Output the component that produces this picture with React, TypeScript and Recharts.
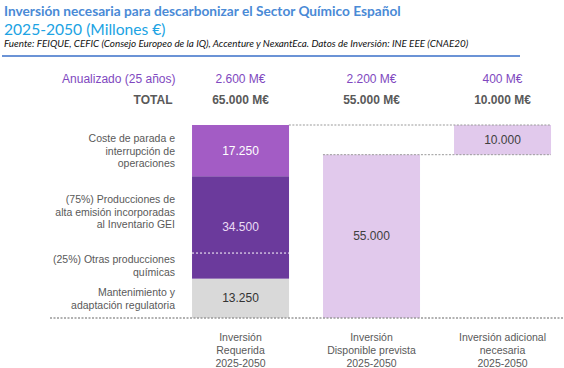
import React from 'react';
import { BarChart, Bar, XAxis, YAxis } from 'recharts';

// categories (x axis, one line per row of the tick)
const categoryLines = [
  ['Inversión', 'Requerida', '2025-2050'],
  ['Inversión', 'Disponible prevista', '2025-2050'],
  ['Inversión adicional', 'necesaria', '2025-2050'],
];
const annualized = ['2.600 M€', '2.200 M€', '400 M€'];
const totals = ['65.000 M€', '55.000 M€', '10.000 M€'];

// series (millones €)
const mantenimiento = [13250, 0, 0];
const altaEmision = [34500, 0, 0];
const costeParada = [17250, 0, 0];
const disponible = [0, 55000, 0];
const base = [0, 0, 55000];
const adicional = [0, 0, 10000];
const altaShare = 0.75; // 75% alta emisión / 25% otras

const mantLabel = ['Mantenimiento y', 'adaptación regulatoria'];
const altaLabel = ['(75%) Producciones de', 'alta emisión incorporadas', 'al Inventario GEI'];
const otrasLabel = ['(25%) Otras producciones', 'químicas'];
const costeLabel = ['Coste de parada e', 'interrupción de', 'operaciones'];

const data = categoryLines.map((lines, i) => ({
  name: lines.join(' '),
  base: base[i],
  mant: mantenimiento[i],
  alta: altaEmision[i],
  coste: costeParada[i],
  disponible: disponible[i],
  adicional: adicional[i],
}));

const GAP = 0.13;
const FONT = '"Liberation Sans", Arial, sans-serif';
const fmt = (v: number) => String(v).replace(/\B(?=(\d{3})+(?!\d))/g, '.');

const Lines = ({ lines, x, cy, anchor, fill, size = 10.5, lh = 12.8 }: any) => (
  <>
    {lines.map((l: string, i: number) => (
      <text
        key={i}
        x={x}
        y={cy + (i - (lines.length - 1) / 2) * lh}
        textAnchor={anchor}
        dominantBaseline="central"
        fontFamily={FONT}
        fontSize={size}
        fill={fill}
      >
        {l}
      </text>
    ))}
  </>
);

const gapPx = (w: number) => (w * GAP) / (1 - 2 * GAP);

const segment = (key: string, fill: string, textFill: string, labels?: string[]) => (p: any) => {
  if (!p.height || p.height <= 0) return null;
  return (
    <g>
      <rect x={p.x} y={p.y} width={p.width} height={p.height} fill={fill} />
      <Lines lines={[fmt(p.payload[key])]} x={p.x + p.width / 2} cy={p.y + p.height / 2} anchor="middle" fill={textFill} size={12} />
      {labels && (
        <Lines lines={labels} x={p.x - gapPx(p.width)} cy={p.y + p.height / 2} anchor="end" fill="#595959" />
      )}
    </g>
  );
};

const AltaShape = (p: any) => {
  if (!p.height || p.height <= 0) return null;
  const lx = p.x - gapPx(p.width);
  const split = p.y + p.height * altaShare;
  return (
    <g>
      <rect x={p.x} y={p.y} width={p.width} height={p.height} fill="#6b3a9c" />
      <line x1={p.x} x2={p.x + p.width} y1={split} y2={split} stroke="#fff" strokeDasharray="2 2" strokeWidth={1} />
      <Lines lines={[fmt(p.payload.alta)]} x={p.x + p.width / 2} cy={p.y + p.height / 2} anchor="middle" fill="#eadcf5" size={12} />
      <Lines lines={altaLabel} x={lx} cy={(p.y + split) / 2 - 3} anchor="end" fill="#595959" />
      <Lines lines={otrasLabel} x={lx} cy={(split + p.y + p.height) / 2} anchor="end" fill="#595959" />
    </g>
  );
};

const AdicionalShape = (p: any) => {
  if (!p.height || p.height <= 0) return null;
  const step = p.width / (1 - 2 * GAP);
  const right = p.x + p.width;
  return (
    <g>
      <rect x={p.x} y={p.y} width={p.width} height={p.height} fill="#e1c9ec" />
      <line x1={right - 2 * step} x2={right} y1={p.y} y2={p.y} stroke="#999" strokeDasharray="2 1.5" />
      <line x1={p.x - step} x2={right} y1={p.y + p.height} y2={p.y + p.height} stroke="#999" strokeDasharray="2 1.5" />
      <Lines lines={[fmt(p.payload.adicional)]} x={p.x + p.width / 2} cy={p.y + p.height / 2} anchor="middle" fill="#404040" size={12} />
    </g>
  );
};

const BottomTick = ({ x, y, payload }: any) => (
  <Lines lines={categoryLines[payload.index]} x={x} cy={y + 30} anchor="middle" fill="#595959" lh={13} />
);

const TopTick = ({ x, y, payload }: any) => {
  const i = payload.index;
  return (
    <g>
      <text x={x} y={y - 44} textAnchor="middle" dominantBaseline="central" fontFamily={FONT} fontSize={12} fill="#8048c0">
        {annualized[i]}
      </text>
      <text x={x} y={y - 23} textAnchor="middle" dominantBaseline="central" fontFamily={FONT} fontSize={12} fontWeight="bold" fill="#595959">
        {totals[i]}
      </text>
      {i === 0 && (
        <>
          <text x={x - 65} y={y - 44} textAnchor="end" dominantBaseline="central" fontFamily={FONT} fontSize={12} fill="#8048c0">
            Anualizado (25 años)
          </text>
          <text x={x - 68} y={y - 23} textAnchor="end" dominantBaseline="central" fontFamily={FONT} fontSize={12} fontWeight="bold" fill="#595959">
            TOTAL
          </text>
        </>
      )}
    </g>
  );
};

export default function App() {
  return (
    <div style={{ position: 'relative', width: 564, height: 368, overflow: 'hidden', background: '#fff' }}>
      <style>{'body{margin:0}'}</style>
      <div style={{ position: 'absolute', left: 4, top: 4, fontFamily: 'Lato, sans-serif', lineHeight: 1 }}>
        <div style={{ fontSize: 13.7, fontWeight: 'bold', color: '#4a8ad6', whiteSpace: 'nowrap' }}>
          Inversión necesaria para descarbonizar el Sector Químico Español
        </div>
        <div style={{ fontSize: 15.6, color: '#20a3e3', marginTop: 4, whiteSpace: 'nowrap' }}>2025-2050 (Millones €)</div>
        <div style={{ fontSize: 9.85, fontStyle: 'italic', color: '#111', marginTop: 2, whiteSpace: 'nowrap' }}>
          Fuente: FEIQUE, CEFIC (Consejo Europeo de la IQ), Accenture y NexantEca. Datos de Inversión: INE EEE (CNAE20)
        </div>
      </div>
      <div style={{ position: 'absolute', left: 2, top: 55, width: 518, height: 1.5, background: '#6b93d6' }} />
      <div style={{ position: 'absolute', left: 0, top: 0 }}>
        <BarChart width={572} height={368} data={data} margin={{ top: 65, right: 0, left: 50, bottom: 5 }} barCategoryGap="13%">
          <YAxis hide width={0} type="number" domain={[0, 65000]} />
          <XAxis
            xAxisId="top"
            orientation="top"
            dataKey="name"
            height={60}
            padding={{ left: 125, right: 4 }}
            axisLine={false}
            tickLine={false}
            tickSize={0}
            tick={<TopTick />}
            interval={0}
          />
          <XAxis
            dataKey="name"
            height={45}
            padding={{ left: 125, right: 4 }}
            axisLine={{ stroke: '#999', strokeDasharray: '2 1.5', strokeWidth: 1.5 }}
            tickLine={false}
            tickSize={0}
            tick={<BottomTick />}
            interval={0}
          />
          <Bar dataKey="base" stackId="a" fill="transparent" isAnimationActive={false} />
          <Bar dataKey="mant" stackId="a" isAnimationActive={false} shape={segment('mant', '#d9d9d9', '#333', mantLabel)} />
          <Bar dataKey="alta" stackId="a" isAnimationActive={false} shape={AltaShape} />
          <Bar dataKey="coste" stackId="a" isAnimationActive={false} shape={segment('coste', '#a35cc5', '#fff', costeLabel)} />
          <Bar dataKey="disponible" stackId="a" isAnimationActive={false} shape={segment('disponible', '#e1c9ec', '#404040')} />
          <Bar dataKey="adicional" stackId="a" isAnimationActive={false} shape={AdicionalShape} />
        </BarChart>
      </div>
    </div>
  );
}
